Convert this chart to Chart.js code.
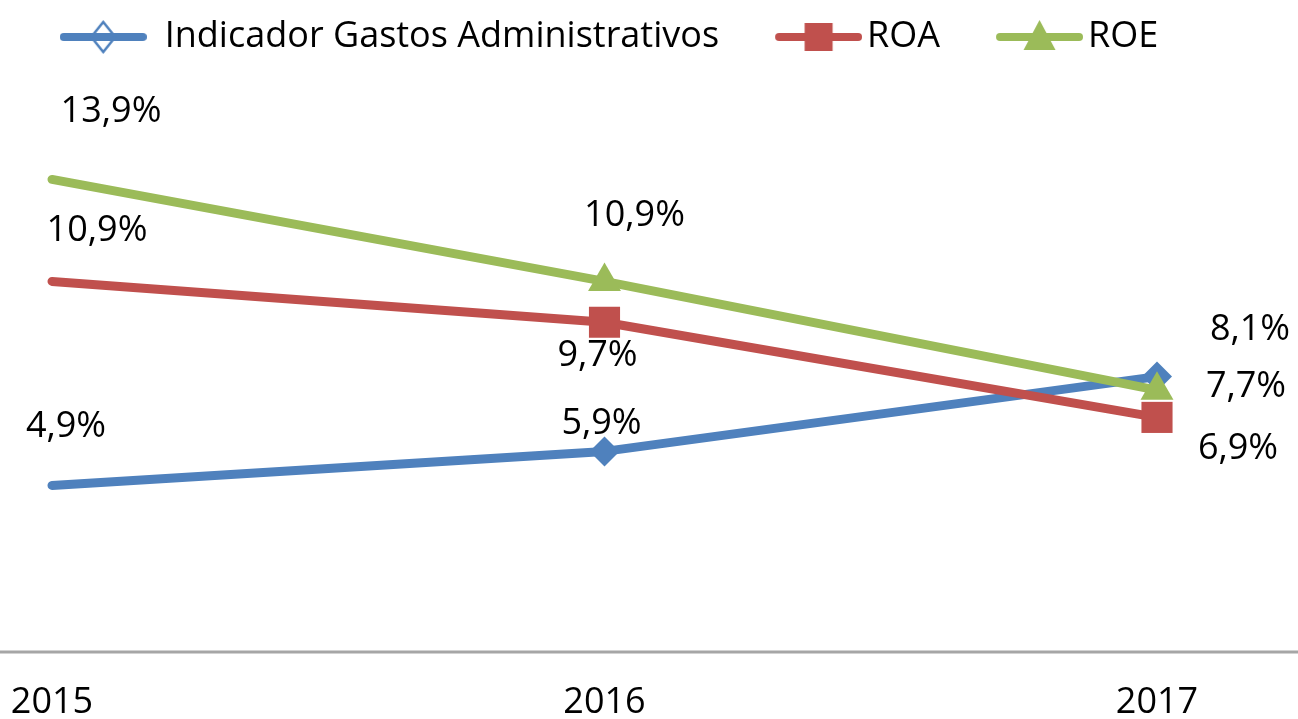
<!DOCTYPE html>
<html>
<head>
<meta charset="utf-8">
<title>Indicadores 2015-2017</title>
<script src="https://cdn.jsdelivr.net/npm/chart.js@4.4.1/dist/chart.umd.min.js"></script>
<style>
  html, body { margin: 0; padding: 0; background: #fff; }
  #wrap { width: 1298px; height: 719px; }
</style>
</head>
<body>
<div id="wrap"><canvas id="indChart"></canvas></div>
<script>
// data
const years = ['2015', '2016', '2017'];
const gastosAdm = [4.9, 5.9, 8.1];
const roa = [10.9, 9.7, 6.9];
const roe = [13.9, 10.9, 7.7];

const FONT = '"Open Sans", "Noto Sans", sans-serif';
const BLUE = '#4F81BD';
const RED = '#C0504D';
const GREEN = '#9BBB59';

// where each value label sits relative to its point (dx, dy)
const labelOffsets = [
  [[14, -59], [-3, -28], [93, -47]],
  [[45, -51], [-7, 34], [81, 31]],
  [[59, -68], [30, -66], [89, -3]]
];

function fmt(v) {
  return v.toFixed(1).replace('.', ',') + '%';
}

// legend icon: line with the marker in the middle
// extra > 0 pushes the line closer to its text
function legendIcon(color, shape, extra) {
  const c = document.createElement('canvas');
  c.width = 87 + 2 * extra;
  c.height = 44;
  const g = c.getContext('2d');
  const x0 = 2 * extra + 4, x1 = 2 * extra + 83;
  g.strokeStyle = color;
  g.lineWidth = 8;
  g.lineCap = 'round';
  g.beginPath();
  g.moveTo(x0, 22);
  g.lineTo(x1, 22);
  g.stroke();
  const cx = (x0 + x1) / 2, cy = 22;
  g.fillStyle = color;
  g.beginPath();
  if (shape === 'diamond') {
    // hollow marker, the line shows through
    g.moveTo(cx, cy - 15);
    g.lineTo(cx + 12, cy);
    g.lineTo(cx, cy + 15);
    g.lineTo(cx - 12, cy);
    g.closePath();
    g.lineWidth = 2.5;
    g.lineCap = 'butt';
    g.stroke();
  } else if (shape === 'square') {
    g.rect(cx - 14, cy - 14, 28, 28);
    g.fill();
  } else {
    g.moveTo(cx, cy - 17);
    g.lineTo(cx + 16, cy + 13);
    g.lineTo(cx - 16, cy + 13);
    g.closePath();
    g.fill();
  }
  return c;
}

const icons = [
  legendIcon(BLUE, 'diamond', 0),
  legendIcon(RED, 'square', 13),
  legendIcon(GREEN, 'triangle', 13)
];

const valueLabels = {
  id: 'valueLabels',
  afterDatasetsDraw(chart) {
    const ctx = chart.ctx;
    ctx.save();
    ctx.font = '36px ' + FONT;
    ctx.fillStyle = '#000';
    ctx.textAlign = 'center';
    ctx.textBaseline = 'middle';
    chart.data.datasets.forEach((ds, di) => {
      const meta = chart.getDatasetMeta(di);
      meta.data.forEach((pt, i) => {
        const off = labelOffsets[di][i];
        ctx.fillText(fmt(ds.data[i]), pt.x + off[0], pt.y + off[1]);
      });
    });
    ctx.restore();
  }
};

// full width category axis line
const baseLine = {
  id: 'baseLine',
  beforeDatasetsDraw(chart) {
    const ctx = chart.ctx;
    const y = chart.scales.y.getPixelForValue(0);
    ctx.save();
    ctx.strokeStyle = '#A6A6A6';
    ctx.lineWidth = 3;
    ctx.beginPath();
    ctx.moveTo(0, y);
    ctx.lineTo(chart.width, y);
    ctx.stroke();
    ctx.restore();
  }
};

// legend on one row, placed like the original, with room below it
const legendPlace = {
  id: 'legendPlace',
  beforeInit(chart) {
    const fit = chart.legend.fit;
    chart.legend.fit = function () {
      this.maxWidth = chart.width;
      fit.call(this);
      this.height = 108;
    };
  },
  afterLayout(chart) {
    chart.legend.left = 0;
    chart.legend.right = 1218;
    chart.legend.top = -24;
  }
};

const ctx = document.getElementById('indChart').getContext('2d');
new Chart(ctx, {
  type: 'line',
  data: {
    labels: years,
    datasets: [
      {
        label: 'Indicador Gastos Administrativos',
        data: gastosAdm,
        borderColor: BLUE,
        backgroundColor: BLUE,
        pointStyle: 'rectRot',
        pointRadius: [0, 15, 15],
        order: 3
      },
      {
        label: 'ROA',
        data: roa,
        borderColor: RED,
        backgroundColor: RED,
        pointStyle: 'rect',
        pointRadius: [0, 22, 22],
        order: 2
      },
      {
        label: 'ROE',
        data: roe,
        borderColor: GREEN,
        backgroundColor: GREEN,
        pointStyle: 'triangle',
        pointRadius: [0, 19, 19],
        order: 1
      }
    ].map(d => Object.assign(d, {
      borderWidth: 9,
      borderCapStyle: 'round',
      borderJoinStyle: 'round',
      pointBorderWidth: 0,
      pointHoverRadius: 0,
      tension: 0,
      fill: false
    }))
  },
  options: {
    responsive: true,
    maintainAspectRatio: false,
    animation: false,
    layout: { autoPadding: false, padding: { left: 52, right: 141, top: 0, bottom: 0 } },
    plugins: {
      legend: {
        position: 'top',
        labels: {
          color: '#000',
          font: { family: FONT, size: 36 },
          usePointStyle: true,
          pointStyleWidth: 87,
          boxHeight: 36,
          padding: 43,
          generateLabels(chart) {
            return chart.data.datasets.map((ds, i) => ({
              text: ds.label,
              pointStyle: icons[i],
              fillStyle: ds.borderColor,
              strokeStyle: ds.borderColor,
              lineWidth: 0,
              fontColor: '#000',
              datasetIndex: i,
              hidden: false
            }));
          }
        }
      },
      tooltip: { enabled: false }
    },
    scales: {
      x: {
        offset: false,
        grid: { display: false, drawTicks: false },
        border: { display: false },
        ticks: {
          color: '#000',
          font: { family: FONT, size: 36 },
          padding: 29,
          maxRotation: 0,
          autoSkip: false
        },
        afterFit(scale) {
          scale.height = 67;
          scale.paddingLeft = 0;
          scale.paddingRight = 0;
        }
      },
      y: {
        display: false,
        min: 0,
        max: 16
      }
    }
  },
  plugins: [valueLabels, baseLine, legendPlace]
});
</script>
</body>
</html>
